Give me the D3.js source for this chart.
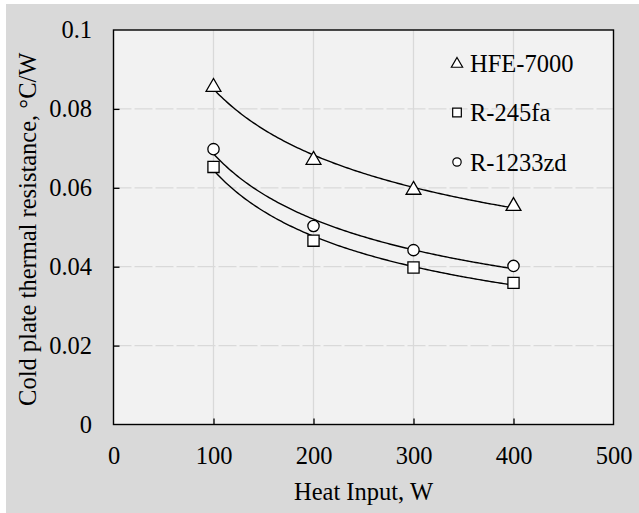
<!DOCTYPE html>
<html>
<head>
<meta charset="utf-8">
<script src="https://cdn.jsdelivr.net/npm/d3@7"></script>
<style>
  html, body { margin: 0; padding: 0; background: #ffffff; }
  svg { display: block; }
  text { font-family: "Liberation Serif", "Times New Roman", serif; fill: #000; }
</style>
</head>
<body>
<svg id="chart" width="639" height="513"></svg>
<script>
// Heat input (W)
const heatInput = [100, 200, 300, 400];
// Cold plate thermal resistance (°C/W) per working fluid
const hfe7000 = [0.0858, 0.0673, 0.0597, 0.0556];
const r245fa = [0.0653, 0.0466, 0.0398, 0.0359];
const r1233zd = [0.0698, 0.0503, 0.0442, 0.0402];
const seriesNames = ["HFE-7000", "R-245fa", "R-1233zd"];
const seriesSymbols = ["triangle", "square", "circle"];
const xTicks = [0, 100, 200, 300, 400, 500];
const yTicks = [0, 0.02, 0.04, 0.06, 0.08, 0.1];

const seriesValues = [hfe7000, r245fa, r1233zd];

const svg = d3.select("#chart");
const W = 639, H = 513;
const plot = { left: 113.5, top: 30, right: 613.5, bottom: 424.5 };
const fontSize = 24.5;

// outer panel
svg.append("rect").attr("x", 6).attr("y", 4).attr("width", W - 6).attr("height", H - 4)
  .attr("fill", "#d9d9d9");
// plot area
svg.append("rect").attr("x", plot.left).attr("y", plot.top)
  .attr("width", plot.right - plot.left).attr("height", plot.bottom - plot.top)
  .attr("fill", "#f2f2f2");

const x = d3.scaleLinear().domain([0, 500]).range([plot.left, plot.right]);
const y = d3.scaleLinear().domain([0, 0.1]).range([plot.bottom, plot.top]);

// gridlines: vertical solid, horizontal dashed
const grid = svg.append("g");
grid.selectAll("line.v").data(xTicks.slice(1, -1)).enter().append("line")
  .attr("x1", d => x(d)).attr("x2", d => x(d))
  .attr("y1", plot.top).attr("y2", plot.bottom)
  .attr("stroke", "#d9d9d9").attr("stroke-width", 1.3);
grid.selectAll("line.h").data(yTicks.slice(1, -1)).enter().append("line")
  .attr("x1", plot.left).attr("x2", plot.right)
  .attr("y1", d => y(d)).attr("y2", d => y(d))
  .attr("stroke", "#d9d9d9").attr("stroke-width", 1.3)
  .attr("stroke-dasharray", "18,3");

// power-law trendlines y = a * x^b (least squares in log space)
function powerFit(xs, ys) {
  const lx = xs.map(Math.log), ly = ys.map(Math.log);
  const n = xs.length;
  const mx = d3.mean(lx), my = d3.mean(ly);
  let sxy = 0, sxx = 0;
  for (let i = 0; i < n; i++) { sxy += (lx[i] - mx) * (ly[i] - my); sxx += (lx[i] - mx) ** 2; }
  const b = sxy / sxx;
  const a = Math.exp(my - b * mx);
  return v => a * Math.pow(v, b);
}
const line = d3.line().x(d => x(d[0])).y(d => y(d[1]));
seriesValues.forEach(vals => {
  const f = powerFit(heatInput, vals);
  const pts = d3.range(100, 400.01, 2).map(v => [v, f(v)]);
  svg.append("path").attr("d", line(pts)).attr("fill", "none")
    .attr("stroke", "#000").attr("stroke-width", 1.4);
});

// markers
const symType = { triangle: d3.symbolTriangle, square: d3.symbolSquare, circle: d3.symbolCircle };
const plotSizes = { triangle: 95, square: 125, circle: 100 };
seriesValues.forEach((vals, si) => {
  const s = seriesSymbols[si];
  const sym = d3.symbol().type(symType[s]).size(plotSizes[s]);
  svg.append("g").selectAll("path").data(vals).enter().append("path")
    .attr("d", sym)
    .attr("transform", (d, i) => `translate(${x(heatInput[i])},${y(d) + (s === "triangle" ? 1 : 0)})`)
    .attr("fill", "#ffffff").attr("stroke", "#000").attr("stroke-width", 1.3);
});

// frame
svg.append("rect").attr("x", plot.left).attr("y", plot.top)
  .attr("width", plot.right - plot.left).attr("height", plot.bottom - plot.top)
  .attr("fill", "none").attr("stroke", "#000").attr("stroke-width", 1.4);

// axes with inward ticks
const xAxis = d3.axisBottom(x).tickValues(xTicks).tickSizeInner(-6).tickSizeOuter(0)
  .tickPadding(22).tickFormat(d3.format("d"));
const gx = svg.append("g").attr("transform", `translate(0,${plot.bottom})`).call(xAxis);
const yAxis = d3.axisLeft(y).tickValues(yTicks).tickSizeInner(-6).tickSizeOuter(0)
  .tickPadding(21.5).tickFormat(d => d === 0 ? "0" : (d === 0.1 ? "0.1" : d3.format(".2f")(d)));
const gy = svg.append("g").attr("transform", `translate(${plot.left},0)`).call(yAxis);
[gx, gy].forEach(g => {
  g.select(".domain").remove();
  g.selectAll(".tick line").attr("stroke", "#000").attr("stroke-width", 1.3);
  g.selectAll(".tick text").attr("font-size", fontSize).attr("fill", "#000");
});
gx.selectAll(".tick line").filter(d => d === 0 || d === 500).remove();
gy.selectAll(".tick line").filter(d => d === 0 || d === 0.1).remove();

// axis titles
svg.append("text").attr("x", (plot.left + plot.right) / 2).attr("y", 500)
  .attr("text-anchor", "middle").attr("font-size", fontSize).text("Heat Input, W");
svg.append("text")
  .attr("transform", `translate(36,${(plot.top + plot.bottom) / 2 + 2}) rotate(-90)`)
  .attr("text-anchor", "middle").attr("font-size", fontSize)
  .text("Cold plate thermal resistance, \u00B0C/W");

// legend
const legSizes = { triangle: 55, square: 75, circle: 55 };
const leg = svg.append("g");
seriesNames.forEach((name, i) => {
  const cy = 63 + i * 49.5;
  const s = seriesSymbols[i];
  leg.append("path").attr("d", d3.symbol().type(symType[s]).size(legSizes[s])())
    .attr("transform", `translate(457,${cy + (s === "triangle" ? 1 : 0)})`)
    .attr("fill", "#ffffff").attr("stroke", "#000").attr("stroke-width", 1.2);
  leg.append("text").attr("x", 470).attr("y", cy).attr("dy", "0.35em")
    .attr("font-size", fontSize).text(name);
});
</script>
</body>
</html>
